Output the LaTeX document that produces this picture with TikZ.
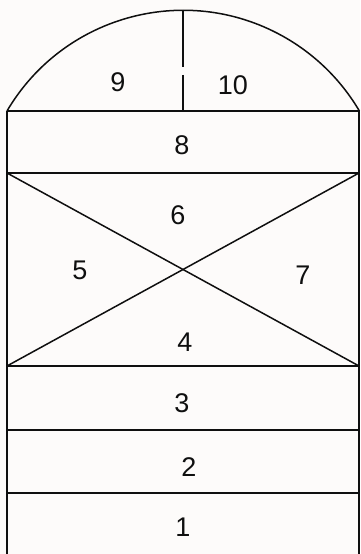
\documentclass[tikz,border=0pt]{standalone}
\usepackage{fontspec}
\setmainfont{Liberation Sans}
\usepackage{xcolor}
\usepackage{tikz}
\usetikzlibrary{calc}
\definecolor{paper}{RGB}{253,251,250}
\definecolor{ink}{RGB}{15,15,15}

\begin{document}
\begin{tikzpicture}[
    x=1pt, y=1pt,
    frame/.style={draw=ink, line width=1.5pt},
    num/.style={font=\fontsize{27}{27}\selectfont, text=ink, inner sep=0pt}
]
\fill[paper] (0,0) rectangle (360,554);
\useasboundingbox (0,0) rectangle (360,554);

% corners of the bands
\coordinate (a1) at (7,443);   \coordinate (b1) at (359,443);
\coordinate (a2) at (7,381);   \coordinate (b2) at (359,381);
\coordinate (a3) at (7,188);   \coordinate (b3) at (359,188);
\coordinate (a4) at (7,124);   \coordinate (b4) at (359,124);
\coordinate (a5) at (7,61);    \coordinate (b5) at (359,61);
\coordinate (a0) at (7,0);     \coordinate (b0) at (359,0);

% arch and its split
\draw[frame] (a1) arc[start angle=149.5, end angle=30.5, radius=204.5];
\draw[frame] (183,544) -- (183,487);
\draw[frame] (183,479) -- (183,443);

% sides and bands
\draw[frame] (a1) -- (a0);
\draw[frame] (b1) -- (b0);
\foreach \i in {1,...,5}{
    \draw[frame] (a\i) -- (b\i);
}
\draw[frame] (a2) -- (b3);
\draw[frame] (a3) -- (b2);

\node[num] (n9)  at (118,472) {9};
\node[num] (n10) at (233,469) {10};
\node[num] (n8)  at (182,409) {8};
\node[num] (n6)  at (178,339) {6};
\node[num] (n5)  at (80,284)  {5};
\node[num] (n7)  at (303,279) {7};
\node[num] (n4)  at (185,212) {4};
\node[num] (n3)  at (182,151) {3};
\node[num] (n2)  at (189,87)  {2};
\node[num] (n1)  at (183,27)  {1};
\end{tikzpicture}
\end{document}
